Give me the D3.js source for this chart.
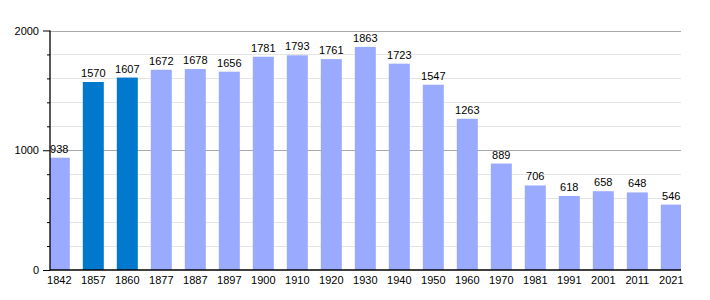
<!DOCTYPE html>
<html><head><meta charset="utf-8">
<script src="https://cdn.jsdelivr.net/npm/d3@7"></script>
<style>body{margin:0;background:#fff}svg{display:block}text{font-family:"Liberation Sans",Arial,sans-serif}</style>
</head><body><svg id="c" width="710" height="300"></svg>
<script>
const years = ["1842","1857","1860","1877","1887","1897","1900","1910","1920","1930","1940","1950","1960","1970","1981","1991","2001","2011","2021"];
const population = [938,1570,1607,1672,1678,1656,1781,1793,1761,1863,1723,1547,1263,889,706,618,658,648,546];
const highlighted = ["1857","1860"];
const majorTicks = [0,1000,2000];
const minorTicks = [200,400,600,800,1200,1400,1600,1800];

const svg = d3.select("#c");
const left = 50, right = 681, top0 = 30.5, bottom = 270;
const y = d3.scaleLinear().domain([0,2000]).range([bottom, top0]);
const x = d3.scaleBand().domain(years).range([42.3, 688.3]).paddingInner(13/34).paddingOuter(13/68);

svg.append("defs").append("clipPath").attr("id","plot").append("rect")
  .attr("x", left).attr("y", 0).attr("width", right-left).attr("height", bottom);

// grid
svg.append("g").selectAll("line").data(minorTicks).join("line")
  .attr("x1", left).attr("x2", right).attr("y1", d=>Math.round(y(d))+0.5).attr("y2", d=>Math.round(y(d))+0.5)
  .attr("stroke", "#e4e4e4").attr("stroke-width", 1);
svg.append("g").selectAll("line").data(majorTicks.filter(d=>d>0)).join("line")
  .attr("x1", left).attr("x2", right).attr("y1", d=>Math.round(y(d))+0.5).attr("y2", d=>Math.round(y(d))+0.5)
  .attr("stroke", "#aaaaaa").attr("stroke-width", 1);

// bars
svg.append("g").attr("clip-path","url(#plot)").selectAll("rect").data(years).join("rect")
  .attr("x", d=>x(d)).attr("width", x.bandwidth())
  .attr("y", (d,i)=>y(population[i])).attr("height", (d,i)=>bottom - y(population[i]))
  .attr("fill", d=>highlighted.includes(d) ? "#0079cc" : "#99aaff");

// value labels
svg.append("g").selectAll("text").data(years).join("text")
  .attr("x", d=>x(d)+x.bandwidth()/2).attr("y", (d,i)=>y(population[i])-5)
  .attr("text-anchor","middle").attr("font-size", 11).attr("fill","#000")
  .text((d,i)=>population[i]);

// y axis
const yAxis = svg.append("g").attr("transform", `translate(${left},0)`)
  .call(d3.axisLeft(y).tickValues(majorTicks).tickSize(7).tickPadding(4).tickFormat(d3.format("d")));
yAxis.select(".domain").remove();
yAxis.selectAll("text").attr("font-size", 11).attr("fill","#000").style("font-family",'"Liberation Sans",Arial,sans-serif');
yAxis.selectAll("line").attr("stroke","#000");
svg.append("g").attr("transform", `translate(${left},0)`)
  .call(d3.axisLeft(y).tickValues(minorTicks).tickSize(3).tickFormat(""))
  .call(g=>g.select(".domain").remove())
  .selectAll("line").attr("stroke","#000");
svg.append("line").attr("x1", left).attr("x2", left).attr("y1", top0).attr("y2", bottom)
  .attr("stroke","#000").attr("stroke-width",1.3);

// x axis
const xAxis = svg.append("g").attr("transform", `translate(0,${bottom})`)
  .call(d3.axisBottom(x).tickSize(0).tickPadding(6));
xAxis.select(".domain").remove();
xAxis.selectAll("text").attr("font-size", 11).attr("fill","#000").style("font-family",'"Liberation Sans",Arial,sans-serif');
svg.append("line").attr("x1", left).attr("x2", right).attr("y1", bottom).attr("y2", bottom)
  .attr("stroke","#000").attr("stroke-width",1.5);
</script></body></html>
